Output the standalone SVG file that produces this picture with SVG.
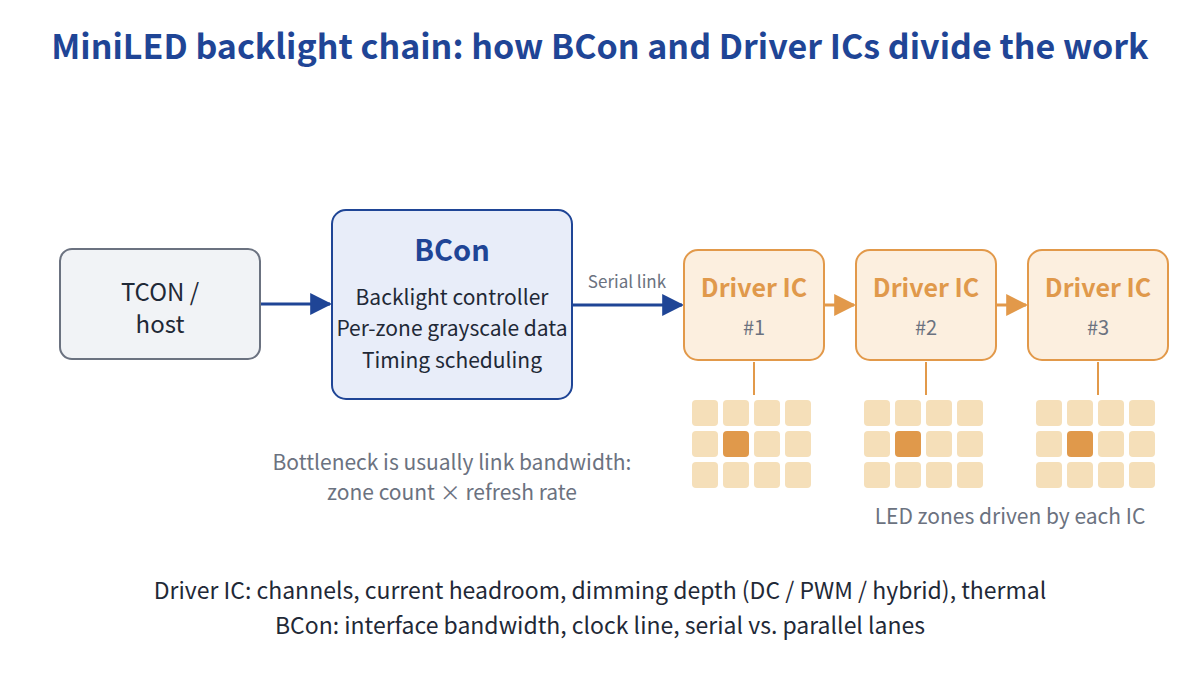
<svg xmlns="http://www.w3.org/2000/svg" width="1200" height="675" viewBox="0 0 1200 675">
<defs>
<style>
text{font-family:"Noto Sans CJK SC","Noto Sans","Liberation Sans",sans-serif;text-anchor:middle}
.title{font-size:34px;font-weight:700;fill:#1f4596}
.dark{fill:#1f2937}
.gray{fill:#6b7280}
.drv{fill:#fcefdf;stroke:#e2994a;stroke-width:2}
.drvt{font-size:25px;font-weight:700;fill:#e0994b}
.num{font-size:20px;fill:#6b7280}
.cell{fill:#f5dfb9}
.hot{fill:#e0994b}
</style>
<marker id="ab" viewBox="0 0 10 10" refX="9" refY="5" markerWidth="22" markerHeight="22" markerUnits="userSpaceOnUse" orient="auto"><path d="M0,0L10,5L0,10z" fill="#1f4596"/></marker>
<marker id="ao" viewBox="0 0 10 10" refX="9" refY="5" markerWidth="22" markerHeight="22" markerUnits="userSpaceOnUse" orient="auto"><path d="M0,0L10,5L0,10z" fill="#e2994a"/></marker>
<g id="grid">
<rect class="cell" x="0" y="0" width="26" height="26" rx="4"/><rect class="cell" x="31" y="0" width="26" height="26" rx="4"/><rect class="cell" x="62" y="0" width="26" height="26" rx="4"/><rect class="cell" x="93" y="0" width="26" height="26" rx="4"/>
<rect class="cell" x="0" y="31" width="26" height="26" rx="4"/><rect class="hot" x="31" y="31" width="26" height="26" rx="4"/><rect class="cell" x="62" y="31" width="26" height="26" rx="4"/><rect class="cell" x="93" y="31" width="26" height="26" rx="4"/>
<rect class="cell" x="0" y="62" width="26" height="26" rx="4"/><rect class="cell" x="31" y="62" width="26" height="26" rx="4"/><rect class="cell" x="62" y="62" width="26" height="26" rx="4"/><rect class="cell" x="93" y="62" width="26" height="26" rx="4"/>
</g>
</defs>
<rect width="1200" height="675" fill="#ffffff"/>
<text class="title" x="600" y="59">MiniLED backlight chain: how BCon and Driver ICs divide the work</text>

<g id="connectors">
<line x1="261" y1="304" x2="330" y2="304" stroke="#1f4596" stroke-width="3" marker-end="url(#ab)"/>
<line x1="573" y1="305" x2="682" y2="305" stroke="#1f4596" stroke-width="3" marker-end="url(#ab)"/>
<text x="627" y="288" style="font-size:17px" class="gray">Serial link</text>
<line x1="825" y1="305" x2="854" y2="305" stroke="#e2994a" stroke-width="3" marker-end="url(#ao)"/>
<line x1="997" y1="305" x2="1026" y2="305" stroke="#e2994a" stroke-width="3" marker-end="url(#ao)"/>
<line x1="754" y1="362" x2="754" y2="395" stroke="#e2994a" stroke-width="2"/>
<line x1="926" y1="362" x2="926" y2="395" stroke="#e2994a" stroke-width="2"/>
<line x1="1098" y1="362" x2="1098" y2="395" stroke="#e2994a" stroke-width="2"/>
</g>

<g id="tcon">
<rect x="60" y="249" width="200" height="110" rx="12" fill="#f1f3f6" stroke="#6b7280" stroke-width="2"/>
<text class="dark" x="160" y="301" style="font-size:24px">TCON /</text>
<text class="dark" x="160" y="333" style="font-size:24px">host</text>
</g>

<g id="bcon">
<rect x="332" y="210" width="240" height="189" rx="14" fill="#e8edf9" stroke="#1f4596" stroke-width="2"/>
<text x="452" y="261" style="font-size:29px;font-weight:700;fill:#1f4596">BCon</text>
<text class="dark" x="452" y="305" style="font-size:21px">Backlight controller</text>
<text class="dark" x="452" y="336" style="font-size:21px">Per-zone grayscale data</text>
<text class="dark" x="452" y="368" style="font-size:21px">Timing scheduling</text>
</g>

<g id="driver1">
<rect class="drv" x="684" y="250" width="140" height="110" rx="14"/>
<text class="drvt" x="754" y="297">Driver IC</text>
<text class="num" x="754" y="335">#1</text>
<use href="#grid" x="692" y="400"/>
</g>
<g id="driver2">
<rect class="drv" x="856" y="250" width="140" height="110" rx="14"/>
<text class="drvt" x="926" y="297">Driver IC</text>
<text class="num" x="926" y="335">#2</text>
<use href="#grid" x="864" y="400"/>
</g>
<g id="driver3">
<rect class="drv" x="1028" y="250" width="140" height="110" rx="14"/>
<text class="drvt" x="1098" y="297">Driver IC</text>
<text class="num" x="1098" y="335">#3</text>
<use href="#grid" x="1036" y="400"/>
</g>

<text class="gray" x="1010" y="524" style="font-size:21px">LED zones driven by each IC</text>
<text class="gray" x="452" y="470" style="font-size:21px">Bottleneck is usually link bandwidth:</text>
<text class="gray" x="452" y="500" style="font-size:21px">zone count × refresh rate</text>
<text class="dark" x="600" y="599" style="font-size:23px">Driver IC: channels, current headroom, dimming depth (DC / PWM / hybrid), thermal</text>
<text class="dark" x="600" y="634" style="font-size:23px">BCon: interface bandwidth, clock line, serial vs. parallel lanes</text>
</svg>
